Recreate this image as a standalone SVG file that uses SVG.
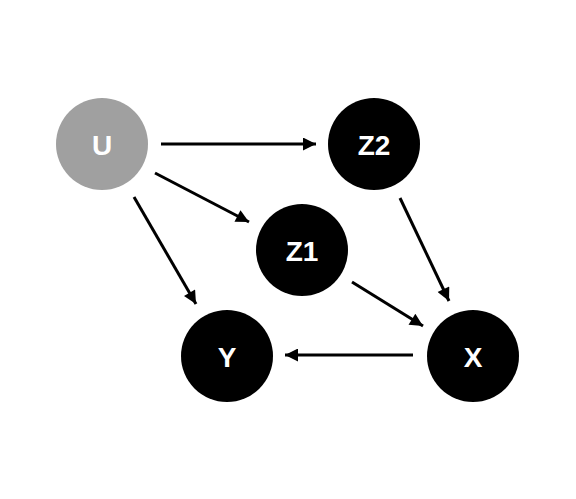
<svg xmlns="http://www.w3.org/2000/svg" width="576" height="499" viewBox="0 0 576 499">
<style>
.n{fill:#000}
.u{fill:#a0a0a0}
.t{fill:#fff;font-family:"Liberation Sans",Arial,sans-serif;font-weight:bold;font-size:28px;text-anchor:middle}
.e{stroke:#000;stroke-width:3;fill:none;marker-end:url(#ah)}
</style>
<defs>
<marker id="ah" viewBox="0 0 10 10" refX="10" refY="5" markerWidth="15" markerHeight="13" markerUnits="userSpaceOnUse" orient="auto">
<path d="M0,0 L10,5 L0,10 z" fill="#000"/>
</marker>
</defs>
<rect width="576" height="499" fill="#fff"/>
<g id="connectors">
<line class="e" x1="161" y1="144" x2="316" y2="144"/>
<line class="e" x1="155" y1="173" x2="249" y2="222"/>
<line class="e" x1="134" y1="197" x2="196" y2="304"/>
<line class="e" x1="400" y1="198" x2="449" y2="301"/>
<line class="e" x1="352" y1="282" x2="423" y2="326"/>
<line class="e" x1="413" y1="355" x2="285" y2="355"/>
</g>
<g id="U"><circle class="u" cx="102" cy="144" r="46"/><text class="t" x="102" y="155">U</text></g>
<g id="Z2"><circle class="n" cx="374" cy="144" r="46"/><text class="t" x="374" y="155">Z2</text></g>
<g id="Z1"><circle class="n" cx="302" cy="250" r="46"/><text class="t" x="302" y="261">Z1</text></g>
<g id="Y"><circle class="n" cx="227" cy="356" r="46"/><text class="t" x="227" y="367">Y</text></g>
<g id="X"><circle class="n" cx="473" cy="356" r="46"/><text class="t" x="473" y="367">X</text></g>
</svg>
